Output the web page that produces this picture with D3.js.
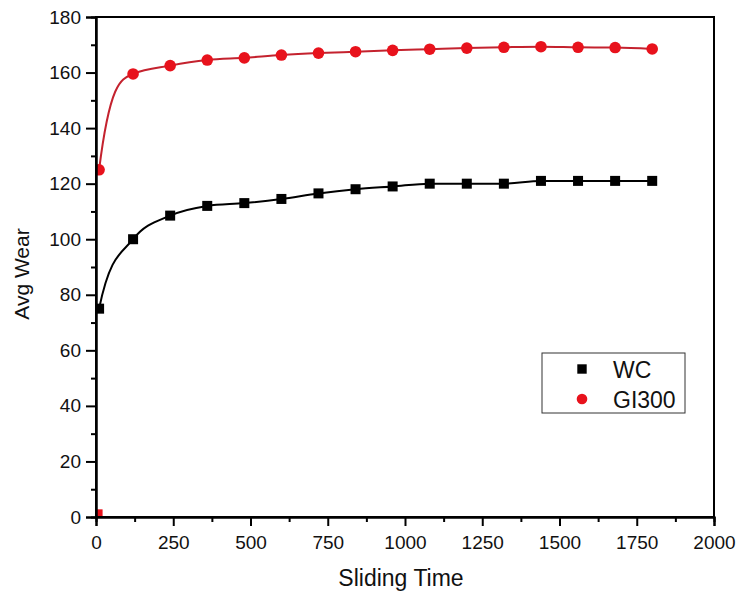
<!DOCTYPE html>
<html>
<head>
<meta charset="utf-8">
<script src="https://cdn.jsdelivr.net/npm/d3@7"></script>
<style>
  body { margin: 0; background: #fff; }
  text { font-family: Arial, "Liberation Sans", sans-serif; fill: #111; }
</style>
</head>
<body>
<div id="chart"></div>
<script>
// sliding time samples (first reading is just after start)
const times = [10, 120, 240, 360, 480, 600, 720, 840, 960, 1080, 1200, 1320, 1440, 1560, 1680, 1800];
const wcWear = [75, 100, 108.5, 112, 113, 114.5, 116.5, 118, 119, 120, 120, 120, 121, 121, 121, 121];
const giWear = [125, 159.5, 162.5, 164.5, 165.3, 166.3, 167, 167.5, 168, 168.4, 168.8, 169.1, 169.3, 169.1, 169, 168.5];
// stray GI300 point sitting on the x axis
const strayTimes = [10];
const strayWear = [1.5];

const xTicks = [0, 250, 500, 750, 1000, 1250, 1500, 1750, 2000];
const yTicks = [0, 20, 40, 60, 80, 100, 120, 140, 160, 180];

const W = 737, H = 595;
const margin = { top: 17, right: 23, bottom: 78, left: 96 };
const width = W - margin.left - margin.right;
const height = H - margin.top - margin.bottom;

const RED = '#e8121c';
const RED_LINE = '#c4222e';

// monotone cubic like curveMonotoneX, but with a steeper start so the
// first segment bends sharply the way the original spline does
function curveSteepStart(context) {
    let pts = [];
    const sign = v => (v < 0 ? -1 : 1);
    return {
        areaStart() {}, areaEnd() {},
        lineStart() { pts = []; },
        point(x, y) { pts.push([+x, +y]); },
        lineEnd() {
            const n = pts.length;
            if (n < 2) return;
            const h = [], s = [];
            for (let i = 0; i < n - 1; i++) {
                h.push(pts[i + 1][0] - pts[i][0]);
                s.push((pts[i + 1][1] - pts[i][1]) / h[i]);
            }
            const m = new Array(n).fill(0);
            for (let i = 1; i < n - 1; i++) {
                const p = (s[i - 1] * h[i] + s[i] * h[i - 1]) / (h[i - 1] + h[i]);
                m[i] = (sign(s[i - 1]) + sign(s[i])) *
                    Math.min(Math.abs(s[i - 1]), Math.abs(s[i]), 0.5 * Math.abs(p)) || 0;
            }
            m[0] = n > 2 ? 3 * s[0] - m[1] : s[0];
            m[n - 1] = n > 2 ? (3 * s[n - 2] - m[n - 2]) / 2 : s[0];
            context.moveTo(pts[0][0], pts[0][1]);
            for (let i = 0; i < n - 1; i++) {
                const d = h[i] / 3;
                context.bezierCurveTo(
                    pts[i][0] + d, pts[i][1] + m[i] * d,
                    pts[i + 1][0] - d, pts[i + 1][1] - m[i + 1] * d,
                    pts[i + 1][0], pts[i + 1][1]);
            }
        }
    };
}

const svg = d3.select('#chart').append('svg')
    .attr('width', W)
    .attr('height', H);

const g = svg.append('g')
    .attr('transform', `translate(${margin.left},${margin.top})`);

const x = d3.scaleLinear().domain([0, 2000]).range([0, width]);
const y = d3.scaleLinear().domain([0, 180]).range([height, 0]);

g.append('defs').append('clipPath')
    .attr('id', 'plotClip')
    .append('rect')
    .attr('width', width)
    .attr('height', height);

const wc = times.map((t, i) => ({ t, v: wcWear[i] }));
const gi = times.map((t, i) => ({ t, v: giWear[i] }));
const stray = strayTimes.map((t, i) => ({ t, v: strayWear[i] }));

const line = d3.line()
    .x(d => x(d.t))
    .y(d => y(d.v))
    .curve(curveSteepStart);

const plot = g.append('g').attr('clip-path', 'url(#plotClip)');

plot.append('path')
    .datum(wc)
    .attr('fill', 'none')
    .attr('stroke', '#000')
    .attr('stroke-width', 2)
    .attr('d', line);

plot.append('path')
    .datum(gi)
    .attr('fill', 'none')
    .attr('stroke', RED_LINE)
    .attr('stroke-width', 2)
    .attr('d', line);

const sq = 10;
plot.selectAll('.wc')
    .data(wc)
    .enter()
    .append('rect')
    .attr('class', 'wc')
    .attr('x', d => x(d.t) - sq / 2)
    .attr('y', d => y(d.v) - sq / 2)
    .attr('width', sq)
    .attr('height', sq)
    .attr('fill', '#000');

plot.selectAll('.gi')
    .data(gi)
    .enter()
    .append('circle')
    .attr('class', 'gi')
    .attr('cx', d => x(d.t))
    .attr('cy', d => y(d.v))
    .attr('r', 5.8)
    .attr('fill', RED);

plot.selectAll('.stray')
    .data(stray)
    .enter()
    .append('rect')
    .attr('class', 'stray')
    .attr('x', d => x(d.t) - 3.5)
    .attr('y', d => y(d.v) - 3.5)
    .attr('width', 7)
    .attr('height', 7)
    .attr('fill', RED);

// frame
g.append('rect')
    .attr('width', width)
    .attr('height', height)
    .attr('fill', 'none')
    .attr('stroke', '#000')
    .attr('stroke-width', 2);

// axes: major ticks with labels, minor ticks halfway
const xAxis = g.append('g').attr('transform', `translate(0,${height})`);
xAxis.call(d3.axisBottom(x).tickValues(d3.range(125, 2000, 250)).tickSize(5).tickFormat(''));
xAxis.append('g').call(d3.axisBottom(x).tickValues(xTicks).tickSize(9).tickPadding(10).tickFormat(d3.format('d')));

const yAxis = g.append('g');
yAxis.call(d3.axisLeft(y).tickValues(d3.range(10, 180, 20)).tickSize(5).tickFormat(''));
yAxis.append('g').call(d3.axisLeft(y).tickValues(yTicks).tickSize(10).tickPadding(5));

g.selectAll('.domain').attr('stroke-width', 2);
g.selectAll('.tick line').attr('stroke-width', 2);
g.selectAll('.tick text')
    .style('font-family', 'Arial, "Liberation Sans", sans-serif')
    .style('font-size', '19px')
    .attr('fill', '#111');

// axis titles
svg.append('text')
    .attr('x', margin.left + x(1000) - 4)
    .attr('y', 586)
    .attr('text-anchor', 'middle')
    .style('font-size', '23px')
    .text('Sliding Time');

svg.append('text')
    .attr('transform', 'translate(29,274) rotate(-90)')
    .attr('text-anchor', 'middle')
    .style('font-size', '21px')
    .text('Avg Wear');

// legend
const legend = svg.append('g').attr('transform', 'translate(542,353)');
legend.append('rect')
    .attr('width', 143)
    .attr('height', 60)
    .attr('fill', '#fff')
    .attr('stroke', '#333')
    .attr('stroke-width', 1);

const legendItems = [
    { name: 'WC', shape: 'square', color: '#000' },
    { name: 'GI300', shape: 'circle', color: RED }
];

legendItems.forEach((item, i) => {
    const cy = 16 + i * 30;
    if (item.shape === 'square') {
        legend.append('rect')
            .attr('x', 40 - 4.7).attr('y', cy - 4.7)
            .attr('width', 9.4).attr('height', 9.4)
            .attr('fill', item.color);
    } else {
        legend.append('circle')
            .attr('cx', 40).attr('cy', cy)
            .attr('r', 5.3)
            .attr('fill', item.color);
    }
    legend.append('text')
        .attr('x', 71)
        .attr('y', cy + 8.5)
        .style('font-size', '23px')
        .text(item.name);
});
</script>
</body>
</html>
